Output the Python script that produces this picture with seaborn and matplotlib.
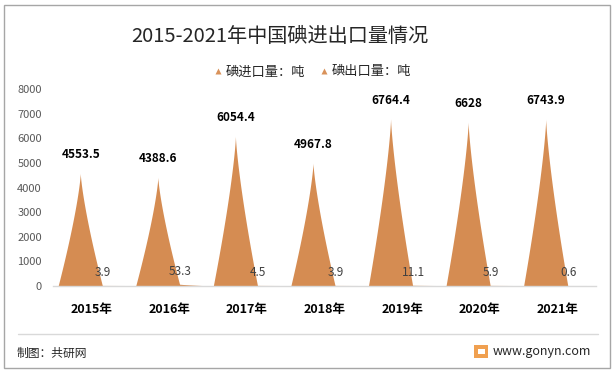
import matplotlib
matplotlib.use("Agg")
import matplotlib.pyplot as plt
import seaborn as sns
import numpy as np
import pandas as pd
from matplotlib.patches import Polygon, Rectangle
from matplotlib.lines import Line2D

years = ["2015年", "2016年", "2017年", "2018年", "2019年", "2020年", "2021年"]
import_vals = [4553.5, 4388.6, 6054.4, 4967.8, 6764.4, 6628, 6743.9]
export_vals = [3.9, 53.3, 4.5, 3.9, 11.1, 5.9, 0.6]
import_labels = ["4553.5", "4388.6", "6054.4", "4967.8", "6764.4", "6628", "6743.9"]
export_labels = ["3.9", "53.3", "4.5", "3.9", "11.1", "5.9", "0.6"]
series = ["碘进口量：吨", "碘出口量：吨"]
yticks = [0, 1000, 2000, 3000, 4000, 5000, 6000, 7000, 8000]

sns.set_theme(style="white")
plt.rcParams['font.family'] = ['Noto Sans CJK SC', 'DejaVu Sans']

cone_color = "#D58C52"

df = pd.DataFrame({
    "year": years * 2,
    "value": import_vals + export_vals,
    "series": [series[0]] * len(years) + [series[1]] * len(years),
})

W, H = 615, 373
fig = plt.figure(figsize=(W / 100, H / 100), dpi=100)
ax = fig.add_axes([53 / W, 1 - 286 / H, 543 / W, 197 / H])

sns.barplot(data=df, x="year", y="value", hue="series", order=years,
            hue_order=series, width=0.568, dodge=True, ax=ax,
            legend=False, errorbar=None, palette=[cone_color, cone_color])

t = np.linspace(0, 1, 60)
labels_all = [import_labels, export_labels]
for si, cont in enumerate(ax.containers):
    for bi, bar in enumerate(cont):
        x0 = bar.get_x()
        w = bar.get_width()
        h = bar.get_height()
        cx = x0 + w / 2
        bar.set_visible(False)
        half = w * (1 - t) ** 1.3
        ys = h * t
        xs_left = cx - half
        xs_right = cx + half
        pts = np.concatenate([np.column_stack([xs_left, ys]),
                              np.column_stack([xs_right[::-1], ys[::-1]])])
        ax.add_patch(Polygon(pts, closed=True, facecolor=cone_color,
                             edgecolor="none", zorder=2))
        if si == 0:
            ax.annotate(labels_all[si][bi], (cx, h), xytext=(0, 9),
                        textcoords="offset points", ha="center", va="bottom",
                        fontsize=8.5, fontweight="bold", color="#000000")
        else:
            ax.annotate(labels_all[si][bi], (cx, h), xytext=(0, 9.5),
                        textcoords="offset points", ha="center", va="center",
                        fontsize=8.5, color="#404040", zorder=3)

ax.set_xlim(-0.5, len(years) - 0.5)
ax.set_ylim(0, 8000)
ax.set_yticks(yticks)
ax.set_yticklabels([str(v) for v in yticks])
ax.set_xlabel("")
ax.set_ylabel("")
for s in ["top", "right", "left"]:
    ax.spines[s].set_visible(False)
ax.spines["bottom"].set_color("#D9D9D9")
ax.spines["bottom"].set_linewidth(1)
ax.tick_params(axis="y", length=0, pad=8, labelsize=8, labelcolor="#595959")
ax.tick_params(axis="x", length=0, pad=12, labelsize=9, labelcolor="#000000")
for lab in ax.get_xticklabels():
    lab.set_fontweight("bold")
ax.set_facecolor("none")

# Title
fig.text(280 / W, 1 - 37 / H, "2015-2021年中国碘进出口量情况", ha="center",
         va="center", fontsize=14.5, color="#262626")

# Legend
handles = [Line2D([0], [0], marker="^", linestyle="none", markersize=5,
                  markerfacecolor="#D9925A", markeredgecolor="none")
           for _ in series]
fig.legend(handles, series, loc="center", bbox_to_anchor=(311 / W, 1 - 72 / H),
           ncol=2, frameon=False, fontsize=9.5, handletextpad=0.1,
           columnspacing=0.9, handlelength=1.0, borderaxespad=0,
           labelcolor="#262626")

# Footer
fig.add_artist(Line2D([18 / W, 598 / W], [1 - 334 / H, 1 - 334 / H],
                      color="#D9D9D9", linewidth=1, transform=fig.transFigure))
fig.text(17 / W, 1 - 353 / H, "制图：共研网", ha="left", va="center",
         fontsize=8.5, color="#262626")
fig.text(493 / W, 1 - 352 / H, "www.gonyn.com", ha="left", va="center",
         fontsize=9, color="#262626")
fig.add_artist(Rectangle((474 / W, 1 - 358 / H), 14 / W, 13 / H,
                         facecolor="#F0A050", edgecolor="none",
                         transform=fig.transFigure))
fig.add_artist(Rectangle((478 / W, 1 - 354 / H), 7 / W, 5 / H,
                         facecolor="#FFFFFF", edgecolor="none",
                         transform=fig.transFigure))

# Border
fig.add_artist(Rectangle((4 / W, 1 - 368 / H), 606 / W, 363 / H,
                         facecolor="none", edgecolor="#A6A6A6", linewidth=1,
                         transform=fig.transFigure))

fig.savefig("out.png", dpi=100)
